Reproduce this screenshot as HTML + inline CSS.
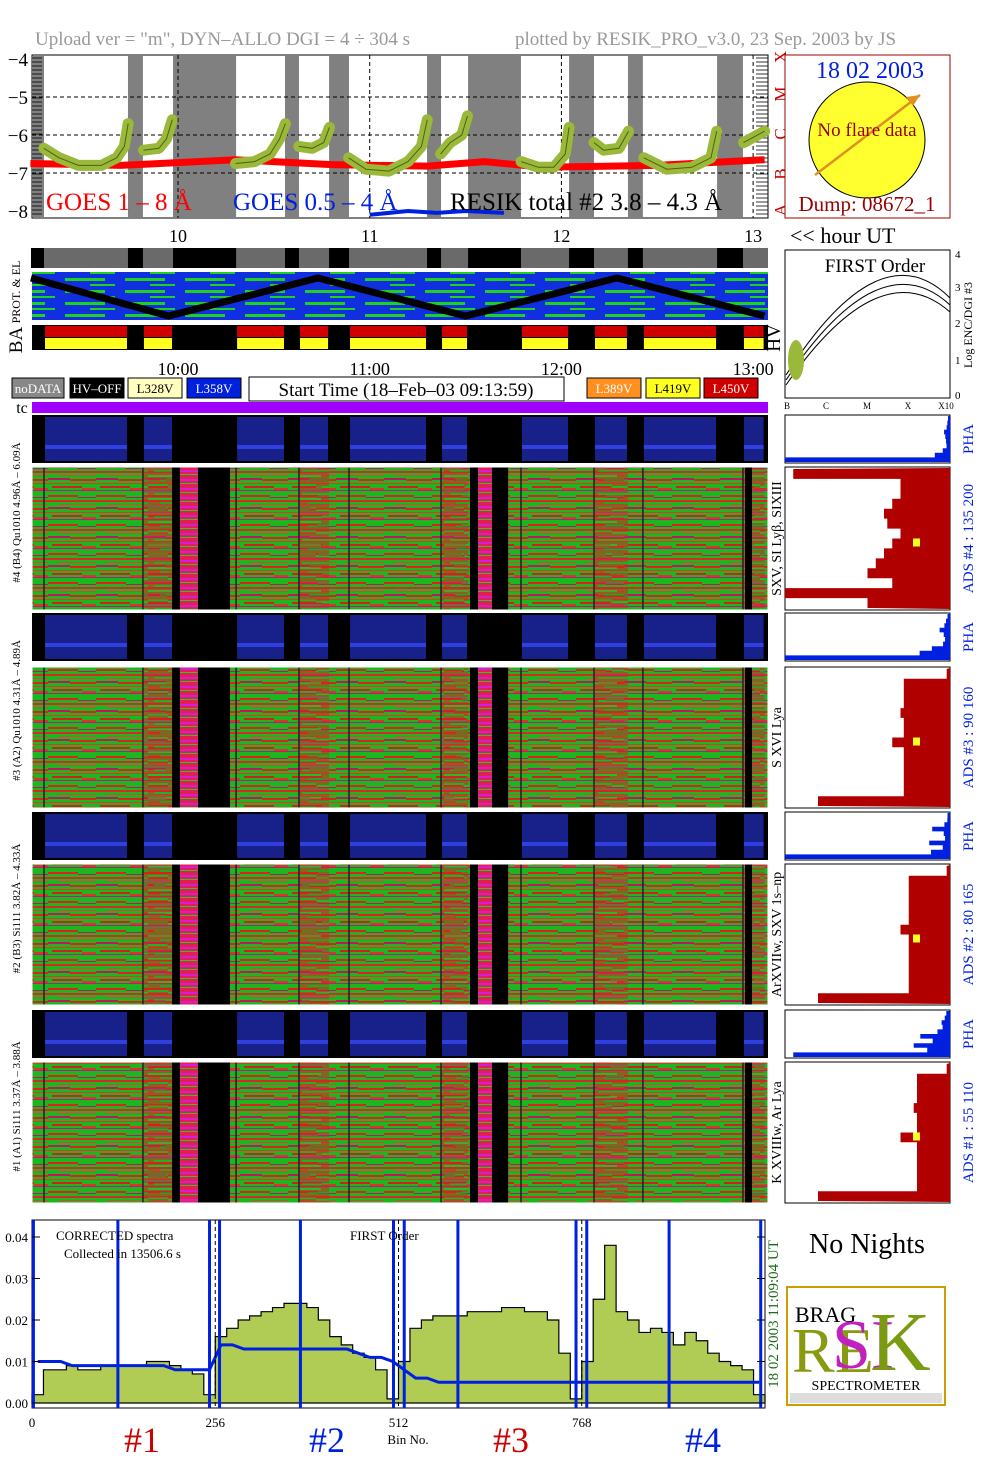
<!DOCTYPE html>
<html><head><meta charset="utf-8"><title>RESIK quicklook</title>
<style>
html,body{margin:0;padding:0;background:#fff;}
svg{display:block;font-family:"Liberation Serif",serif;}
</style></head>
<body>
<svg id="main" width="1004" height="1477" viewBox="0 0 1004 1477" xmlns="http://www.w3.org/2000/svg">
<defs>
<pattern id="heat" width="48" height="29" patternUnits="userSpaceOnUse">
<rect width="48" height="29" fill="#1fb51f"/>
<rect y="2" width="30" height="2" fill="#e02020"/><rect x="30" y="4" width="18" height="1" fill="#c01070"/>
<rect y="7" width="48" height="2" fill="#d82828"/><rect x="10" y="11" width="38" height="1" fill="#e04040"/>
<rect y="14" width="22" height="2" fill="#c01860"/><rect x="22" y="15" width="26" height="2" fill="#e02020"/>
<rect y="19" width="48" height="1" fill="#f03030"/><rect x="4" y="22" width="30" height="2" fill="#d02020"/>
<rect y="26" width="48" height="1" fill="#b02080"/><rect x="34" y="24" width="14" height="2" fill="#e03030"/>
</pattern>
<pattern id="heat2" width="37" height="23" patternUnits="userSpaceOnUse">
<rect width="37" height="23" fill="#d82020"/>
<rect y="1" width="20" height="2" fill="#20b020"/><rect x="20" y="3" width="17" height="2" fill="#20c020"/>
<rect y="7" width="37" height="1" fill="#c020a0"/><rect x="6" y="10" width="31" height="2" fill="#20b020"/>
<rect y="15" width="25" height="2" fill="#30c030"/><rect x="12" y="19" width="25" height="2" fill="#20a020"/>
</pattern>
<pattern id="pink" width="18" height="9" patternUnits="userSpaceOnUse">
<rect width="18" height="9" fill="#e02050"/><rect y="2" width="18" height="2" fill="#d020d0"/><rect y="6" width="18" height="1" fill="#30c030"/>
</pattern>
<pattern id="prot" width="60" height="12" patternUnits="userSpaceOnUse">
<rect width="60" height="12" fill="#1030e0"/><rect x="5" y="2" width="40" height="3" fill="#20d020"/><rect x="30" y="8" width="25" height="2" fill="#20d020"/>
</pattern>
</defs>
<rect width="1004" height="1477" fill="#fff"/>
<text x="35" y="45" font-size="19" fill="#999">Upload ver = "m", DYN–ALLO DGI =   4 ÷ 304 s</text>
<text x="515" y="45" font-size="19" fill="#999">plotted by RESIK_PRO_v3.0, 23 Sep. 2003 by JS</text>
<g id="goes"></g>
<g id="strips"></g>
<g id="heatg"></g>
<g id="right"></g>
<g id="spec"></g>
</svg>
<script>
// ---- data ----
const hourTicks=[10,11,12,13];
const grayBands=[[9.233,9.301],[9.739,9.817],[9.974,10.303],[10.558,10.631],[10.788,10.892],[11.299,11.372],[11.513,11.789],[12.040,12.170],[12.347,12.425],[12.812,12.947]];
const goesLong=[[9.23,-6.75],[9.7,-6.8],[10.3,-6.65],[10.8,-6.78],[11.3,-6.82],[11.6,-6.7],[11.9,-6.85],[12.5,-6.8],[13.06,-6.65]];
const goesShort=[[11.0,-8.1],[11.2,-8.0],[11.35,-8.05],[11.5,-8.0],[11.7,-8.05]];
const resikSegs=[
[[9.30,-6.35],[9.38,-6.6],[9.48,-6.8],[9.60,-6.8],[9.68,-6.6],[9.72,-6.3],[9.74,-5.7]],
[[9.82,-6.4],[9.90,-6.35],[9.94,-6.1],[9.97,-5.6]],
[[10.30,-6.75],[10.40,-6.7],[10.48,-6.5],[10.53,-6.1],[10.56,-5.7]],
[[10.63,-6.3],[10.70,-6.35],[10.76,-6.2],[10.79,-5.8]],
[[10.89,-6.6],[10.98,-6.9],[11.10,-6.95],[11.20,-6.7],[11.27,-6.3],[11.30,-5.6]],
[[11.37,-6.5],[11.42,-6.2],[11.48,-6.0],[11.51,-5.5]],
[[11.79,-6.7],[11.88,-6.85],[11.96,-6.85],[12.02,-6.5],[12.04,-5.8]],
[[12.17,-6.2],[12.22,-6.4],[12.30,-6.35],[12.35,-5.9]],
[[12.43,-6.6],[12.55,-6.9],[12.68,-6.85],[12.78,-6.6],[12.81,-5.9]],
[[12.95,-6.2],[13.06,-5.9]]];
const zigzagHours=[9.233,9.95,10.73,11.50,12.29,13.06];
const zigzagLevels=[1,0,1,0,1,0];
const heatBlack=[[9.969,10.010],[10.104,10.271],[11.523,11.565],[11.638,11.722],[12.958,12.994]];
const heatPink=[[10.010,10.104],[11.565,11.638]];
const binTicks=[0,256,512,768];
const specYTicks=[0,0.01,0.02,0.03,0.04];
const specFill=[0.002,0.008,0.008,0.009,0.008,0.008,0.009,0.009,0.009,0.009,0.010,0.010,0.009,0.008,0.007,0.002,
0.016,0.018,0.020,0.021,0.022,0.023,0.024,0.024,0.023,0.020,0.016,0.014,0.012,0.011,0.008,0.001,
0.010,0.018,0.020,0.021,0.021,0.021,0.022,0.022,0.022,0.023,0.023,0.022,0.022,0.020,0.012,0.001,
0.010,0.025,0.038,0.022,0.020,0.017,0.018,0.017,0.014,0.017,0.015,0.012,0.010,0.009,0.008,0.002];
const specBlue=[0.010,0.010,0.010,0.009,0.009,0.009,0.009,0.009,0.009,0.009,0.009,0.009,0.008,0.008,0.008,0.008,
0.014,0.014,0.013,0.013,0.013,0.013,0.013,0.013,0.013,0.013,0.013,0.013,0.012,0.011,0.011,0.010,
0.008,0.006,0.006,0.005,0.005,0.005,0.005,0.005,0.005,0.005,0.005,0.005,0.005,0.005,0.005,0.005,
0.005,0.005,0.005,0.005,0.005,0.005,0.005,0.005,0.005,0.005,0.005,0.005,0.005,0.005,0.005,0.005];
const blueSpikes=[2,120,248,262,375,505,520,595,760,775,890,1018];
const phaHist=[[0.08,0.1,0.12,0.2,0.15,0.12,0.1,0.2,0.4,1.0],[0.1,0.15,0.2,0.35,0.2,0.15,0.2,0.5,0.8,1.0],[0.1,0.1,0.2,0.6,0.2,0.15,0.6,0.2,0.5,1.0],[0.15,0.2,0.3,0.25,0.4,0.9,0.5,1.0,0.6,0.95]];
const adsHist=[[0.95,0.3,0.3,0.35,0.4,0.38,0.3,0.35,0.4,0.45,0.5,0.35,1.0,0.5],[0.02,0.28,0.28,0.28,0.3,0.28,0.28,0.35,0.28,0.28,0.28,0.28,0.28,0.8],[0.02,0.25,0.25,0.25,0.25,0.25,0.3,0.25,0.25,0.25,0.25,0.25,0.25,0.8],[0.02,0.2,0.2,0.2,0.22,0.2,0.2,0.3,0.2,0.2,0.2,0.2,0.2,0.8]];

const NS='http://www.w3.org/2000/svg';
function mk(parent,tag,attrs,txt){const e=document.createElementNS(NS,tag);for(const k in attrs)e.setAttribute(k,attrs[k]);if(txt!==undefined)e.textContent=txt;parent.appendChild(e);return e;}
const X=h=>31+(h-9.2331)*191.7;
const gY=v=>59+(-4-v)*38;

// ---- GOES panel ----
const G=document.getElementById('goes');
mk(G,'rect',{x:32,y:55,width:736,height:163,fill:'#fff',stroke:'#000'});
grayBands.forEach(b=>{const r=mk(G,'rect',{x:X(b[0]),y:56,width:X(b[1])-X(b[0]),height:161,fill:'#808080'});

});
[-5,-6,-7].forEach(v=>mk(G,'line',{x1:32,x2:768,y1:gY(v),y2:gY(v),stroke:'#000','stroke-dasharray':'4,3'}));
hourTicks.forEach(h=>{mk(G,'line',{x1:X(h),x2:X(h),y1:55,y2:218,stroke:'#000','stroke-dasharray':'4,3'});
const t=mk(G,'text',{x:X(h),y:242,'font-size':18,'text-anchor':'middle'},h);

});
for(let y=58;y<218;y+=4){mk(G,'line',{x1:32,x2:42,y1:y,y2:y,stroke:'#000','stroke-width':0.8});mk(G,'line',{x1:756,x2:768,y1:y,y2:y,stroke:'#000','stroke-width':0.8});}
[-4,-5,-6,-7,-8].forEach(v=>{const t=mk(G,'text',{x:28,y:gY(v)+7,'font-size':19,'text-anchor':'end'},'−'+(-v));

});
const lr=mk(G,'polyline',{points:goesLong.map(p=>X(p[0])+','+gY(p[1])).join(' '),fill:'none',stroke:'#f00','stroke-width':7});


const sr=mk(G,'polyline',{points:goesShort.map(p=>X(p[0])+','+gY(p[1])).join(' '),fill:'none',stroke:'#0020e0','stroke-width':4});


resikSegs.forEach(s=>{const p=mk(G,'polyline',{points:s.map(q=>X(q[0])+','+gY(q[1])).join(' '),fill:'none',stroke:'#9ab83a','stroke-width':11,'stroke-linejoin':'round','stroke-linecap':'round'});


mk(G,'polyline',{points:s.map(q=>X(q[0])+','+gY(q[1])).join(' '),fill:'none',stroke:'#506010','stroke-width':1});});
[['GOES 1 – 8 Å',46,'#f00'],['GOES 0.5 – 4 Å',233,'#0020e0'],['RESIK total #2  3.8 – 4.3 Å',450,'#000']].forEach(l=>{const t=mk(G,'text',{x:l[1],y:210,'font-size':25,fill:l[2]},l[0]);

});
[['X',63],['M',100],['C',140],['B',180],['A',216]].forEach(c=>mk(G,'text',{x:780,y:c[1],'font-size':17,fill:'#c00','text-anchor':'middle',transform:`rotate(-90 780 ${c[1]-6})`},c[0]));

// ---- strips ----
const S=document.getElementById('strips');
mk(S,'rect',{x:32,y:248,width:736,height:20,fill:'#6a6a6a'});
grayBands.forEach(b=>mk(S,'rect',{x:X(b[0]),y:248,width:X(b[1])-X(b[0]),height:20,fill:'#000'}));
mk(S,'rect',{x:32,y:272,width:736,height:48,fill:'url(#prot)'});
const zz=mk(S,'polyline',{points:zigzagHours.map((h,i)=>X(h)+','+(zigzagLevels[i]?278:316)).join(' '),fill:'none',stroke:'#000','stroke-width':7});


mk(S,'rect',{x:32,y:325,width:736,height:25,fill:'#000'});
const segs=[];let prev=9.301;grayBands.slice(1).forEach(b=>{segs.push([prev,b[0]]);prev=b[1];});segs.push([prev,13.06]);
segs.forEach(s=>{mk(S,'rect',{x:X(s[0])+1,y:326,width:X(s[1])-X(s[0])-2,height:11,fill:'#d00000'});mk(S,'rect',{x:X(s[0])+1,y:338,width:X(s[1])-X(s[0])-2,height:11,fill:'#ffff20'});});
mk(S,'text',{x:20,y:292,'font-size':12,'text-anchor':'middle',transform:'rotate(-90 20 292)'},'PROT. & EL');
mk(S,'text',{x:22,y:340,'font-size':19,'text-anchor':'middle',transform:'rotate(-90 22 340)'},'BA');
mk(S,'text',{x:780,y:338,'font-size':19,'text-anchor':'middle',transform:'rotate(-90 780 338)'},'HV');
hourTicks.forEach(h=>mk(S,'text',{x:X(h),y:375,'font-size':18,'text-anchor':'middle'},h+':00'));
const btns=[['noDATA',12,52,'#888','#fff'],['HV–OFF',70,54,'#000','#fff'],['L328V',128,54,'#ffffc0','#000'],['L358V',187,54,'#0020e0','#fff'],['L389V',587,54,'#ff9020','#fff'],['L419V',646,54,'#ffff20','#000'],['L450V',704,54,'#d00000','#fff']];
btns.forEach(b=>{mk(S,'rect',{x:b[1],y:378,width:b[2],height:20,fill:b[3],stroke:'#000'});const t=mk(S,'text',{x:b[1]+b[2]/2,y:393,'font-size':13,'text-anchor':'middle',fill:b[4]},b[0]);

});
mk(S,'rect',{x:249,y:377,width:315,height:24,fill:'#fff',stroke:'#000'});
mk(S,'text',{x:406,y:396,'font-size':19,'text-anchor':'middle'},'Start Time (18–Feb–03 09:13:59)');
mk(S,'text',{x:22,y:413,'font-size':16,'text-anchor':'middle'},'tc');
mk(S,'rect',{x:32,y:402,width:736,height:11,fill:'#a000ff'});

// ---- heat panels ----
const H=document.getElementById('heatg');
const panels=[[415,467,143,'#4 (B4) Qu1010 4.96Å – 6.09Å','SXV, SI Lyβ, SIXIII','ADS #4 :  135 200'],[613,667,141,'#3 (A2) Qu1010 4.31Å – 4.89Å','S XVI Lya','ADS #3 :  90 160'],[812,864,141,'#2 (B3) Si111 3.82Å – 4.33Å','ArXVIIw, SXV 1s–np','ADS #2 :  80 165'],[1010,1062,141,'#1 (A1) Si111 3.37Å – 3.88Å','K XVIIIw, Ar Lya','ADS #1 :  55 110']];
panels.forEach((p,i)=>{
 mk(H,'rect',{x:32,y:p[0],width:736,height:48,fill:'#000'});
 segs.forEach(s=>{const r=mk(H,'rect',{x:X(s[0])+1,y:p[0]+2,width:X(s[1])-X(s[0])-2,height:44,fill:'#18208a'});
 
 
 mk(H,'rect',{x:X(s[0])+1,y:p[0]+30,width:X(s[1])-X(s[0])-2,height:4,fill:'#3040e0'});});
 const hm=mk(H,'rect',{x:32,y:p[1],width:736,height:p[2],fill:'url(#heat)'});
 
 
 segs.forEach((s,k)=>{if(k%2===1)mk(H,'rect',{x:X(s[0]),y:p[1],width:X(s[1])-X(s[0]),height:p[2],fill:'url(#heat2)',opacity:0.55});
 mk(H,'line',{x1:X(s[0]),x2:X(s[0]),y1:p[1],y2:p[1]+p[2],stroke:'#222','stroke-width':1.5});});
 heatBlack.forEach(b=>mk(H,'rect',{x:X(b[0]),y:p[1],width:X(b[1])-X(b[0]),height:p[2],fill:'#000'}));
 heatPink.forEach(b=>mk(H,'rect',{x:X(b[0]),y:p[1],width:X(b[1])-X(b[0]),height:p[2],fill:'url(#pink)'}));
 mk(H,'rect',{x:32,y:p[1],width:736,height:p[2],fill:'none',stroke:'#fff','stroke-width':1});
 const cy=(p[0]+p[1]+p[2])/2;
 mk(H,'text',{x:20,y:cy,'font-size':11,'text-anchor':'middle',transform:`rotate(-90 20 ${cy})`},p[3]);
 const my=p[1]+p[2]/2;
 mk(H,'text',{x:781,y:my,'font-size':14,'text-anchor':'middle',transform:`rotate(-90 781 ${my})`},p[4]);
});

// ---- right panels ----
const R=document.getElementById('right');
mk(R,'rect',{x:785,y:55,width:165,height:163,fill:'#fff',stroke:'#900'});
mk(R,'circle',{cx:867,cy:140,r:58,fill:'#ffff30',stroke:'#000'});
mk(R,'line',{x1:815,y1:175,x2:920,y2:95,stroke:'#e09020','stroke-width':2.5});
mk(R,'polygon',{points:'920,95 906,97 913,106',fill:'#e09020'});
mk(R,'text',{x:870,y:78,'font-size':24,fill:'#0020e0','text-anchor':'middle'},'18 02 2003');
mk(R,'text',{x:867,y:136,'font-size':19,fill:'#900','text-anchor':'middle'},'No flare data');
mk(R,'text',{x:867,y:211,'font-size':21,fill:'#900','text-anchor':'middle'},'Dump: 08672_1');
mk(R,'text',{x:790,y:243,'font-size':22},'<< hour UT');
mk(R,'rect',{x:785,y:250,width:165,height:148,fill:'#fff',stroke:'#000'});
mk(R,'text',{x:875,y:272,'font-size':19,'text-anchor':'middle'},'FIRST Order');
['M786,385 Q880,250 950,312','M786,380 Q880,240 950,305','M786,375 Q880,228 950,298'].forEach(d=>mk(R,'path',{d:d,fill:'none',stroke:'#000','stroke-width':1}));
mk(R,'ellipse',{cx:796,cy:360,rx:8,ry:20,fill:'#9ab83a'});
[['B',787],['C',826],['M',867],['X',908],['X10',946]].forEach(c=>mk(R,'text',{x:c[1],y:409,'font-size':9,'text-anchor':'middle'},c[0]));
[['4',254],['3',287],['2',323],['1',360],['0',395]].forEach(c=>mk(R,'text',{x:955,y:c[1]+4,'font-size':11},c[0]));
mk(R,'text',{x:972,y:325,'font-size':12,'text-anchor':'middle',transform:'rotate(-90 972 325)'},'Log ENC/DGI #3');
panels.forEach((p,i)=>{
 mk(R,'rect',{x:785,y:p[0],width:165,height:48,fill:'#fff',stroke:'#000'});
 const ph=phaHist[i];const n=ph.length;let pts=`950,${p[0]+1} `;
 ph.forEach((v,k)=>{const y0=p[0]+1+k*46/n,y1=y0+46/n;const x=950-v*165*(k<n-1?0.15+0.1*k/n:1);pts+=`${950-0.1*165*v},${y0} ${x},${y0} ${x},${y1} `;});
 pts+=`950,${p[0]+47}`;
 const ph2=mk(R,'polygon',{points:pts,fill:'#0020e0'});
 
 
 mk(R,'rect',{x:785,y:p[1],width:165,height:p[2],fill:'#fff',stroke:'#000'});
 const ad=adsHist[i];const m=ad.length;let ap=`950,${p[1]+1} `;
 ad.forEach((v,k)=>{const y0=p[1]+2+k*(p[2]-4)/m,y1=y0+(p[2]-4)/m;const x=950-v*165;ap+=`${x},${y0} ${x},${y1} `;});
 ap+=`950,${p[1]+p[2]-1}`;
 const ads=mk(R,'polygon',{points:ap,fill:'#b00000'});
 
 
 mk(R,'rect',{x:913,y:p[1]+p[2]*0.5,width:7,height:8,fill:'#ffff20'});
 const py=p[0]+24,ay=p[1]+p[2]/2;
 mk(R,'text',{x:973,y:py,'font-size':15,fill:'#0020e0','text-anchor':'middle',transform:`rotate(-90 973 ${py})`},'PHA');
 mk(R,'text',{x:973,y:ay,'font-size':15,fill:'#0020e0','text-anchor':'middle',transform:`rotate(-90 973 ${ay})`},p[5]);
});
mk(R,'text',{x:867,y:1253,'font-size':28,'text-anchor':'middle'},'No Nights');
mk(R,'rect',{x:787,y:1287,width:158,height:118,fill:'#fff',stroke:'#c8a000','stroke-width':2});
mk(R,'text',{x:792,y:1372,'font-size':64,fill:'#8a9a10'},'RE');
mk(R,'text',{x:832,y:1368,'font-size':70,fill:'#c020c0'},'SI');
mk(R,'text',{x:870,y:1370,'font-size':84,fill:'#7a9a10'},'K');
mk(R,'text',{x:795,y:1322,'font-size':22,fill:'#000'},'BRAG');
mk(R,'text',{x:866,y:1390,'font-size':14,'text-anchor':'middle'},'SPECTROMETER');
mk(R,'rect',{x:790,y:1393,width:152,height:10,fill:'#ddd'});

// ---- spectrum chart ----
const P=document.getElementById('spec');
const bx=b=>32+b*(765-32)/1024, vy=v=>1403-v*(1403-1237)/0.04;
mk(P,'rect',{x:32,y:1220,width:733,height:188,fill:'#fff',stroke:'#000'});
let fp=`${bx(0)},${vy(0)} `;specFill.forEach((v,i)=>{fp+=`${bx(i*16)},${vy(v)} ${bx(i*16+16)},${vy(v)} `;});fp+=`${bx(1024)},${vy(0)}`;
const fa=mk(P,'polygon',{points:fp,fill:'#b0cc55',stroke:'#000','stroke-width':1.2});


const bl=mk(P,'polyline',{points:specBlue.map((v,i)=>bx(i*16+8)+','+vy(v)).join(' '),fill:'none',stroke:'#0020e0','stroke-width':3});


blueSpikes.forEach(b=>{const l=mk(P,'line',{x1:bx(b),x2:bx(b),y1:1220,y2:1408,stroke:'#0020e0','stroke-width':3});

});
[256,512,768].forEach(b=>mk(P,'line',{x1:bx(b),x2:bx(b),y1:1220,y2:1408,stroke:'#000','stroke-dasharray':'4,3'}));
specYTicks.forEach(v=>{mk(P,'line',{x1:32,x2:40,y1:vy(v),y2:vy(v),stroke:'#000'});mk(P,'line',{x1:757,x2:765,y1:vy(v),y2:vy(v),stroke:'#000'});
const t=mk(P,'text',{x:28,y:vy(v)+5,'font-size':13,'text-anchor':'end'},v.toFixed(2));

});
binTicks.forEach(b=>{const t=mk(P,'text',{x:bx(b),y:1427,'font-size':13,'text-anchor':'middle'},b);

});
mk(P,'text',{x:408,y:1444,'font-size':13,'text-anchor':'middle'},'Bin No.');
mk(P,'text',{x:56,y:1240,'font-size':13},'CORRECTED spectra');
mk(P,'text',{x:64,y:1258,'font-size':13},'Collected in 13506.6 s');
mk(P,'text',{x:350,y:1240,'font-size':13},'FIRST Order');
mk(P,'text',{x:778,y:1314,'font-size':15,fill:'#1a6a1a','text-anchor':'middle',transform:'rotate(-90 778 1314)'},'18 02 2003    11:09:04 UT');
[['#1',142,'#c00'],['#2',327,'#0020e0'],['#3',511,'#c00'],['#4',703,'#0020e0']].forEach(l=>{const t=mk(P,'text',{x:l[1],y:1452,'font-size':36,fill:l[2],'text-anchor':'middle'},l[0]);

});
</script>
</body></html>
